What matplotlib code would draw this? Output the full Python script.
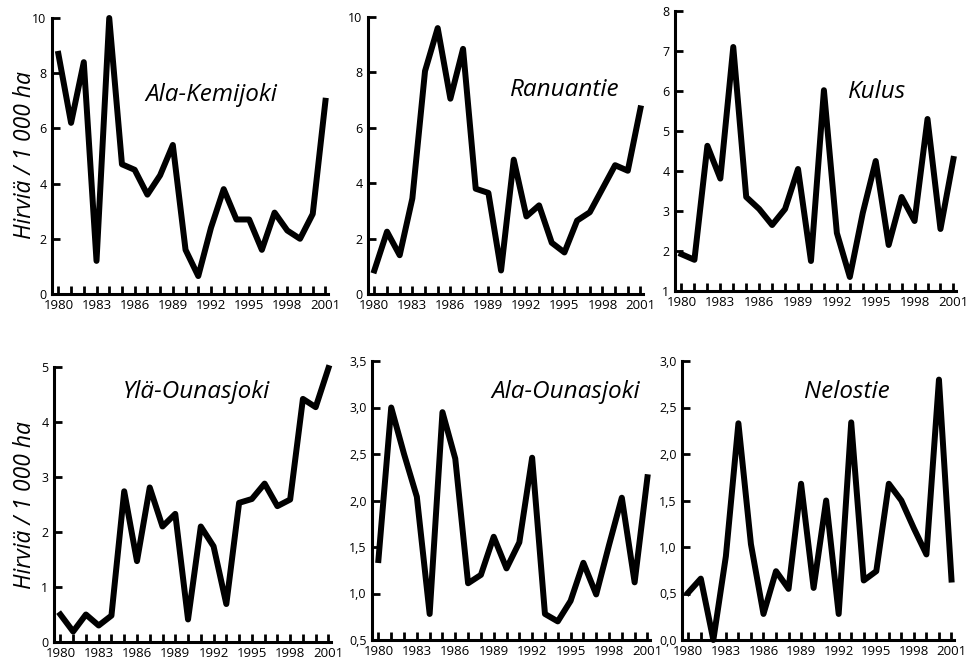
import matplotlib
matplotlib.use("Agg")
import matplotlib.pyplot as plt
import numpy as np

plt.rcParams['font.family'] = ['Open Sans', 'DejaVu Sans']

years = list(range(1980, 2002))

ala_kemijoki = [8.7, 6.2, 8.4, 1.2, 10.0, 4.7, 4.5, 3.6, 4.3, 5.4, 1.6,
                0.65, 2.4, 3.8, 2.7, 2.7, 1.6, 2.95, 2.3, 2.0, 2.9, 7.0]
ranuantie = [0.85, 2.25, 1.4, 3.45, 8.05, 9.6, 7.05, 8.85, 3.8, 3.65, 0.85,
             4.85, 2.8, 3.2, 1.85, 1.5, 2.65, 2.95, 3.8, 4.65, 4.45, 6.7]
kulus = [1.92, 1.78, 4.63, 3.81, 7.1, 3.35, 3.05, 2.65, 3.05, 4.05, 1.75,
         6.02, 2.45, 1.35, 2.95, 4.25, 2.15, 3.35, 2.75, 5.3, 2.55, 4.3]
yla_ounasjoki = [0.5, 0.19, 0.5, 0.3, 0.48, 2.74, 1.47, 2.81, 2.1, 2.33, 0.41,
                 2.1, 1.74, 0.69, 2.53, 2.6, 2.88, 2.47, 2.59, 4.42, 4.27, 4.98]
ala_ounasjoki = [1.36, 3.0, 2.5, 2.04, 0.78, 2.95, 2.45, 1.11, 1.2, 1.61, 1.27,
                 1.55, 2.46, 0.78, 0.7, 0.92, 1.33, 0.99, 1.52, 2.03, 1.12, 2.25]
nelostie = [0.51, 0.66, 0.0, 0.9, 2.33, 1.03, 0.28, 0.74, 0.55, 1.68, 0.56,
            1.5, 0.28, 2.34, 0.64, 0.74, 1.68, 1.5, 1.2, 0.92, 2.8, 0.65]

names = ["Ala-Kemijoki", "Ranuantie", "Kulus",
         "Ylä-Ounasjoki", "Ala-Ounasjoki", "Nelostie"]
series = [ala_kemijoki, ranuantie, kulus, yla_ounasjoki, ala_ounasjoki, nelostie]
y_ticks = [[0, 2, 4, 6, 8, 10], [0, 2, 4, 6, 8, 10], [1, 2, 3, 4, 5, 6, 7, 8],
           [0, 1, 2, 3, 4, 5], [0.5, 1.0, 1.5, 2.0, 2.5, 3.0, 3.5],
           [0.0, 0.5, 1.0, 1.5, 2.0, 2.5, 3.0]]
comma_labels = [False, False, False, False, True, True]
x_labels = list(range(1980, 2002, 3))
ylabel = "Hirviä / 1 000 ha"

tick_font = ['Liberation Sans Narrow', 'Open Sans', 'DejaVu Sans']

W, H = 968, 661
fig = plt.figure(figsize=(W / 100, H / 100), dpi=100)

# pixel boxes: left, top, right, bottom
boxes = [(52, 18, 328, 294), (368, 17, 643, 294), (675, 11, 956, 291),
         (54, 367, 331, 642), (372, 361, 650, 640), (682, 361, 954, 640)]
# title centres in pixels
title_pos = [(211, 95), (565, 90), (877, 92), (196, 392), (566, 392), (847, 392)]

for i in range(6):
    l, t, r, b = boxes[i]
    ax = fig.add_axes([l / W, 1 - b / H, (r - l) / W, (b - t) / H])
    ax.plot(years, series[i], color='black', lw=4.3, solid_joinstyle='round',
            clip_on=False)
    ax.set_xlim(1979.5, 2001.2)
    ax.set_ylim(y_ticks[i][0], y_ticks[i][-1])
    ax.set_yticks(y_ticks[i])
    if comma_labels[i]:
        ylabs = [f"{v:.1f}".replace('.', ',') for v in y_ticks[i]]
    else:
        ylabs = [str(v) for v in y_ticks[i]]
    ax.set_yticklabels(ylabs, family=tick_font, fontsize=9)
    ax.set_xticks(x_labels)
    ax.set_xticklabels([str(v) for v in x_labels], family=tick_font, fontsize=9.5)
    ax.set_xticks(years, minor=True)
    for s in ['top', 'right']:
        ax.spines[s].set_visible(False)
    for s in ['left', 'bottom']:
        ax.spines[s].set_linewidth(2.2)
    ax.tick_params(which='both', direction='in', length=5.5, width=2.0)
    ax.tick_params(axis='x', pad=3.5)
    ax.tick_params(axis='y', pad=4)
    ax.patch.set_alpha(0)
    tx, ty = title_pos[i]
    fig.text(tx / W, 1 - ty / H, names[i], fontsize=17.5, style='italic',
             ha='center', va='center')

fig.text(25 / W, 1 - 155 / H, ylabel, fontsize=16.5, style='italic',
         rotation=90, ha='center', va='center')
fig.text(25 / W, 1 - 505 / H, ylabel, fontsize=16.5, style='italic',
         rotation=90, ha='center', va='center')

fig.savefig("out.png", dpi=100)
